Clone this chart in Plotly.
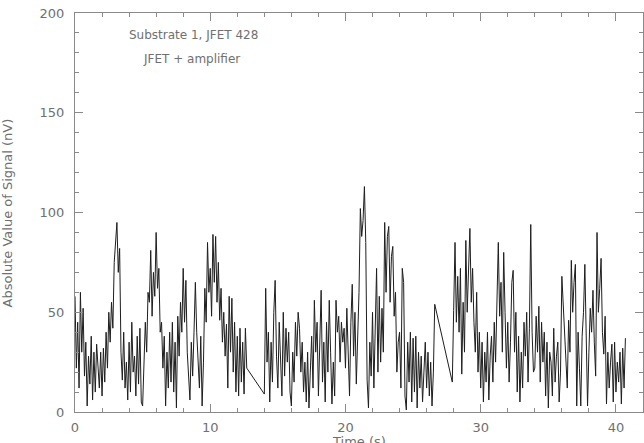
import plotly.graph_objects as go

# ---- data ----
time_s = [
    # segment 1
    0.0,0.1,0.2,0.3,0.4,0.5,0.6,0.7,0.8,0.9,
    1.0,1.1,1.2,1.3,1.4,1.5,1.6,1.7,1.8,1.9,
    2.0,2.1,2.2,2.3,2.4,2.5,2.6,2.7,2.8,2.9,
    3.0,3.1,3.2,3.3,3.4,3.5,3.6,3.7,3.8,3.9,
    4.0,4.1,4.2,4.3,4.4,4.5,4.6,4.7,4.8,4.9,
    5.0,5.1,5.2,5.3,5.4,5.5,5.6,5.7,5.8,5.9,
    6.0,6.1,6.2,6.3,6.4,6.5,6.6,6.7,6.8,6.9,
    7.0,7.1,7.2,7.3,7.4,7.5,7.6,7.7,7.8,7.9,
    8.0,8.1,8.2,8.3,8.4,8.5,8.6,8.7,8.8,8.9,
    9.0,9.1,9.2,9.3,9.4,9.5,9.6,9.7,9.8,9.9,
    10.0,10.1,10.2,10.3,10.4,10.5,10.6,10.7,10.8,10.9,
    11.0,11.1,11.2,11.3,11.4,11.5,11.6,11.7,11.8,11.9,
    12.0,12.1,12.2,12.3,12.4,12.5,12.6,12.7,
    # segment 2
    14.0,14.1,14.2,14.3,14.4,14.5,14.6,14.7,14.8,14.9,
    15.0,15.1,15.2,15.3,15.4,15.5,15.6,15.7,15.8,15.9,
    16.0,16.1,16.2,16.3,16.4,16.5,16.6,16.7,16.8,16.9,
    17.0,17.1,17.2,17.3,17.4,17.5,17.6,17.7,17.8,17.9,
    18.0,18.1,18.2,18.3,18.4,18.5,18.6,18.7,18.8,18.9,
    19.0,19.1,19.2,19.3,19.4,19.5,19.6,19.7,19.8,19.9,
    20.0,20.1,20.2,20.3,20.4,20.5,20.6,20.7,20.8,20.9,
    21.0,21.1,21.2,21.3,21.4,21.5,21.6,21.7,21.8,21.9,
    22.0,22.1,22.2,22.3,22.4,22.5,22.6,22.7,22.8,22.9,
    23.0,23.1,23.2,23.3,23.4,23.5,23.6,23.7,23.8,23.9,
    24.0,24.1,24.2,24.3,24.4,24.5,24.6,24.7,24.8,24.9,
    25.0,25.1,25.2,25.3,25.4,25.5,25.6,25.7,25.8,25.9,
    26.0,26.1,26.2,26.3,26.4,26.5,26.6,
    # segment 3
    27.9,
    28.0,28.1,28.2,28.3,28.4,28.5,28.6,28.7,28.8,28.9,
    29.0,29.1,29.2,29.3,29.4,29.5,29.6,29.7,29.8,29.9,
    30.0,30.1,30.2,30.3,30.4,30.5,30.6,30.7,30.8,30.9,
    31.0,31.1,31.2,31.3,31.4,31.5,31.6,31.7,31.8,31.9,
    32.0,32.1,32.2,32.3,32.4,32.5,32.6,32.7,32.8,32.9,
    33.0,33.1,33.2,33.3,33.4,33.5,33.6,33.7,33.8,33.9,
    34.0,34.1,34.2,34.3,34.4,34.5,34.6,34.7,34.8,34.9,
    35.0,35.1,35.2,35.3,35.4,35.5,35.6,35.7,35.8,35.9,
    36.0,36.1,36.2,36.3,36.4,36.5,36.6,36.7,36.8,36.9,
    37.0,37.1,37.2,37.3,37.4,37.5,37.6,37.7,37.8,37.9,
    38.0,38.1,38.2,38.3,38.4,38.5,38.6,38.7,38.8,38.9,
    39.0,39.1,39.2,39.3,39.4,39.5,39.6,39.7,39.8,39.9,
    40.0,40.1,40.2,40.3,40.4,40.5,40.6,40.7,
]

signal_nv = [
    # segment 1
    58,22,45,12,60,30,52,18,35,3,
    28,14,38,6,30,10,34,20,12,30,
    8,32,15,40,22,50,35,55,42,75,
    88,95,70,82,30,16,40,12,25,6,
    35,10,45,20,28,8,38,14,42,5,
    3,22,45,30,60,55,81,48,70,58,
    90,62,72,40,45,22,38,3,30,12,
    40,15,45,10,35,2,48,28,55,40,
    72,45,66,30,20,6,35,18,40,65,
    40,28,12,38,3,25,62,45,85,60,
    72,48,89,65,88,55,75,46,62,35,
    50,28,44,12,58,30,57,20,45,10,
    38,8,42,15,35,9,42,22,
    # segment 2
    9,62,25,40,5,35,15,50,66,28,
    12,45,20,8,50,18,42,25,40,10,
    3,30,15,45,28,50,42,20,35,10,
    25,5,30,2,20,38,12,56,30,45,
    8,40,61,15,35,5,45,20,56,30,
    4,25,8,56,40,48,25,45,35,42,
    22,52,30,8,45,64,28,50,14,40,
    60,102,88,96,113,85,16,2,35,18,
    50,12,45,72,20,58,25,52,30,95,
    60,88,93,55,78,83,48,60,20,35,
    40,12,72,65,8,1,35,15,40,5,
    37,10,38,2,30,12,28,5,20,35,
    12,30,8,25,3,20,54,
    # segment 3
    15,
    51,85,45,68,40,72,19,55,30,86,
    50,75,92,55,72,45,30,60,20,40,
    12,35,5,30,15,40,6,28,38,15,
    45,25,60,85,48,65,30,80,50,22,
    45,15,35,65,71,30,50,10,38,5,
    30,12,45,28,50,15,42,94,40,20,
    22,48,30,53,15,45,25,40,8,35,
    2,30,25,8,42,15,28,35,5,20,
    68,55,40,25,12,46,30,76,50,65,
    74,3,40,22,3,38,50,74,40,3,
    30,52,40,61,35,18,90,50,62,77,
    40,29,48,4,30,12,25,34,5,35,
    10,25,15,30,4,32,12,37,
]

x_ticks = [0, 10, 20, 30, 40]
y_ticks = [0, 50, 100, 150, 200]
labels = ["Substrate 1, JFET 428", "JFET + amplifier"]
x_title = "Time (s)"
y_title = "Absolute Value of Signal (nV)"

axis_col = "#8a8a8a"
text_col = "#707070"
font_fam = "DejaVu Sans"

fig = go.Figure()
fig.add_trace(go.Scatter(
    x=time_s, y=signal_nv, mode="lines",
    line=dict(color="#1e1e1e", width=1),
    showlegend=False, hoverinfo="skip",
))

common = dict(
    showgrid=False, zeroline=False, showline=True, linecolor=axis_col,
    linewidth=1, mirror="ticks", ticks="inside", tickcolor=axis_col,
    ticklen=8, tickwidth=1, automargin=False,
    tickfont=dict(family=font_fam, size=13, color=text_col),
)

fig.update_xaxes(
    range=[0, 42], tickvals=x_ticks, ticktext=[str(v) for v in x_ticks],
    minor=dict(dtick=2, ticks="inside", ticklen=4, tickcolor=axis_col),
    ticklabelstandoff=3, **common,
)
fig.update_yaxes(
    range=[0, 200], tickvals=y_ticks, ticktext=[str(v) for v in y_ticks],
    minor=dict(dtick=10, ticks="inside", ticklen=4, tickcolor=axis_col),
    ticklabelstandoff=7, **common,
)

fig.add_annotation(x=8.75, y=189, xref="x", yref="y", text=labels[0],
                   showarrow=False, font=dict(family=font_fam, size=12, color=text_col))
fig.add_annotation(x=8.65, y=177, xref="x", yref="y", text=labels[1],
                   showarrow=False, font=dict(family=font_fam, size=12, color=text_col))
fig.add_annotation(x=0.5, y=-0.075, xref="paper", yref="paper", text=x_title,
                   showarrow=False, yanchor="middle",
                   font=dict(family=font_fam, size=13, color=text_col))
fig.add_annotation(x=-0.118, y=0.5, xref="paper", yref="paper", text=y_title,
                   showarrow=False, textangle=-90, xanchor="center",
                   font=dict(family=font_fam, size=13, color=text_col))

fig.update_layout(
    width=644, height=443,
    margin=dict(l=75, r=1, t=13, b=31),
    paper_bgcolor="white", plot_bgcolor="white",
)

fig.write_html(
    "out.html",
    config={"displayModeBar": False},
    post_script="document.body.style.margin='0px';document.body.style.overflow='hidden';",
)
